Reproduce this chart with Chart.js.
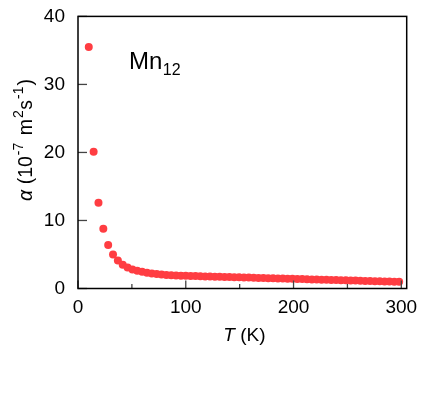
<!DOCTYPE html>
<html>
<head>
<meta charset="utf-8">
<script src="https://cdn.jsdelivr.net/npm/chart.js@4/dist/chart.umd.min.js"></script>
<style>
  html, body { margin: 0; padding: 0; background: #ffffff; }
  #c { display: block; }
</style>
</head>
<body>
<canvas id="c" width="423" height="409"></canvas>
<script>
// ---- data ----
const temperatureK = [
  10, 14.5, 19, 23.5, 28, 32.5, 37, 41.5, 46, 50.5,
  55, 59.5, 64, 68.5, 73, 77.5, 82, 86.5, 91, 95.5,
  100, 104.5, 109, 113.5, 118, 122.5, 127, 131.5, 136, 140.5,
  145, 149.5, 154, 158.5, 163, 167.5, 172, 176.5, 181, 185.5,
  190, 194.5, 199, 203.5, 208, 212.5, 217, 221.5, 226, 230.5,
  235, 239.5, 244, 248.5, 253, 257.5, 262, 266.5, 271, 275.5,
  280, 284.5, 289, 293.5, 298
];
const alphaValues = [
  35.5, 20.1, 12.6, 8.8, 6.4, 5.0, 4.1, 3.5, 3.1, 2.8,
  2.6, 2.45, 2.3, 2.2, 2.12, 2.05, 2.0, 1.96, 1.92, 1.89,
  1.86, 1.84, 1.82, 1.80, 1.78, 1.76, 1.74, 1.72, 1.70, 1.68,
  1.66, 1.64, 1.62, 1.60, 1.58, 1.56, 1.54, 1.52, 1.50, 1.48,
  1.46, 1.44, 1.42, 1.40, 1.38, 1.36, 1.34, 1.32, 1.30, 1.28,
  1.26, 1.24, 1.22, 1.20, 1.18, 1.16, 1.14, 1.12, 1.10, 1.08,
  1.06, 1.04, 1.02, 1.00, 0.98
];
const xTickValues = [0, 100, 200, 300];
const xMinorTickValues = [50, 150, 250];
const yTickValues = [0, 10, 20, 30, 40];
const sampleLabel = ['Mn', '12'];

const FONT = '"Liberation Sans", Arial, Helvetica, sans-serif';

const framePlugin = {
  id: 'framePlugin',
  afterDraw(chart) {
    const ctx = chart.ctx;
    const a = chart.chartArea;
    const xs = chart.scales.x, ys = chart.scales.y;
    ctx.save();
    // inward ticks
    ctx.lineWidth = 1.3;
    ctx.strokeStyle = '#444';
    yTickValues.forEach(v => {
      const py = ys.getPixelForValue(v);
      ctx.beginPath(); ctx.moveTo(a.left, py); ctx.lineTo(a.left + 9, py); ctx.stroke();
    });
    xTickValues.forEach(v => {
      const px = xs.getPixelForValue(v);
      ctx.beginPath(); ctx.moveTo(px, a.bottom); ctx.lineTo(px, a.bottom - 8); ctx.stroke();
    });
    xMinorTickValues.forEach(v => {
      const px = xs.getPixelForValue(v);
      ctx.beginPath(); ctx.moveTo(px, a.bottom); ctx.lineTo(px, a.bottom - 4.5); ctx.stroke();
    });
    // frame
    ctx.lineWidth = 1.5;
    ctx.strokeStyle = '#000';
    ctx.strokeRect(a.left, a.top, a.right - a.left, a.bottom - a.top);

    // sample label Mn12
    ctx.fillStyle = '#000';
    ctx.textBaseline = 'alphabetic';
    ctx.textAlign = 'left';
    ctx.font = '24px ' + FONT;
    ctx.fillText(sampleLabel[0], 129, 69);
    const mnW = ctx.measureText(sampleLabel[0]).width;
    ctx.font = '16px ' + FONT;
    ctx.fillText(sampleLabel[1], 129 + mnW + 0.5, 75);

    // x axis title: T (K)
    const xt1 = 'T', xt2 = ' (K)';
    ctx.font = 'italic 19px ' + FONT;
    const w1 = ctx.measureText(xt1).width;
    ctx.font = '19px ' + FONT;
    const w2 = ctx.measureText(xt2).width;
    let sx = (a.left + a.right) / 2 + 2 - (w1 + w2) / 2;
    ctx.font = 'italic 19px ' + FONT;
    ctx.fillText(xt1, sx, 341);
    ctx.font = '19px ' + FONT;
    ctx.fillText(xt2, sx + w1, 341);

    // y axis title: α (10^-7 m^2 s^-1)
    const segs = [
      { t: 'α', f: 'italic 19.5px ' + FONT, dy: 0, gap: 0 },
      { t: ' (10', f: '19.5px ' + FONT, dy: 0, gap: 1 },
      { t: '-7', f: '14px ' + FONT, dy: -9, gap: 2 },
      { t: ' m', f: '19.5px ' + FONT, dy: 0, gap: 1 },
      { t: '2', f: '14px ' + FONT, dy: -9, gap: 0.5 },
      { t: 's', f: '19.5px ' + FONT, dy: 0, gap: 1 },
      { t: '-1', f: '14px ' + FONT, dy: -9, gap: 1 },
      { t: ')', f: '19.5px ' + FONT, dy: 0, gap: 0 }
    ];
    let total = 0;
    segs.forEach(s => { ctx.font = s.f; s.w = ctx.measureText(s.t).width; total += s.w + s.gap; });
    ctx.translate(32, 140);
    ctx.rotate(-Math.PI / 2);
    let cx = -total / 2;
    segs.forEach(s => { ctx.font = s.f; ctx.fillText(s.t, cx, s.dy); cx += s.w + s.gap; });
    ctx.restore();
  }
};

const points = temperatureK.map((t, i) => ({ x: t, y: alphaValues[i] }));

new Chart(document.getElementById('c'), {
  type: 'scatter',
  data: {
    datasets: [{
      data: points,
      pointRadius: 4,
      pointHoverRadius: 4,
      pointBackgroundColor: '#ff3d42',
      pointBorderWidth: 0,
      showLine: false
    }]
  },
  options: {
    responsive: false,
    animation: false,
    devicePixelRatio: 1,
    layout: { padding: { left: 0, top: 14, right: 16.3, bottom: 0 } },
    plugins: { legend: { display: false }, tooltip: { enabled: false } },
    scales: {
      x: {
        type: 'linear',
        position: 'bottom',
        min: 0,
        max: 305,
        grid: { display: false },
        border: { display: false },
        ticks: { color: '#000', font: { family: FONT, size: 19 }, padding: 0, maxRotation: 0, autoSkip: false },
        afterBuildTicks: s => { s.ticks = xTickValues.map(v => ({ value: v })); },
        afterFit: s => { s.height = 120.5; }
      },
      y: {
        type: 'linear',
        position: 'left',
        min: 0,
        max: 40,
        grid: { display: false },
        border: { display: false },
        ticks: { color: '#000', font: { family: FONT, size: 19 }, padding: 5, autoSkip: false },
        afterBuildTicks: s => { s.ticks = yTickValues.map(v => ({ value: v })); },
        afterFit: s => { s.width = 78; }
      }
    }
  },
  plugins: [framePlugin]
});
</script>
</body>
</html>
